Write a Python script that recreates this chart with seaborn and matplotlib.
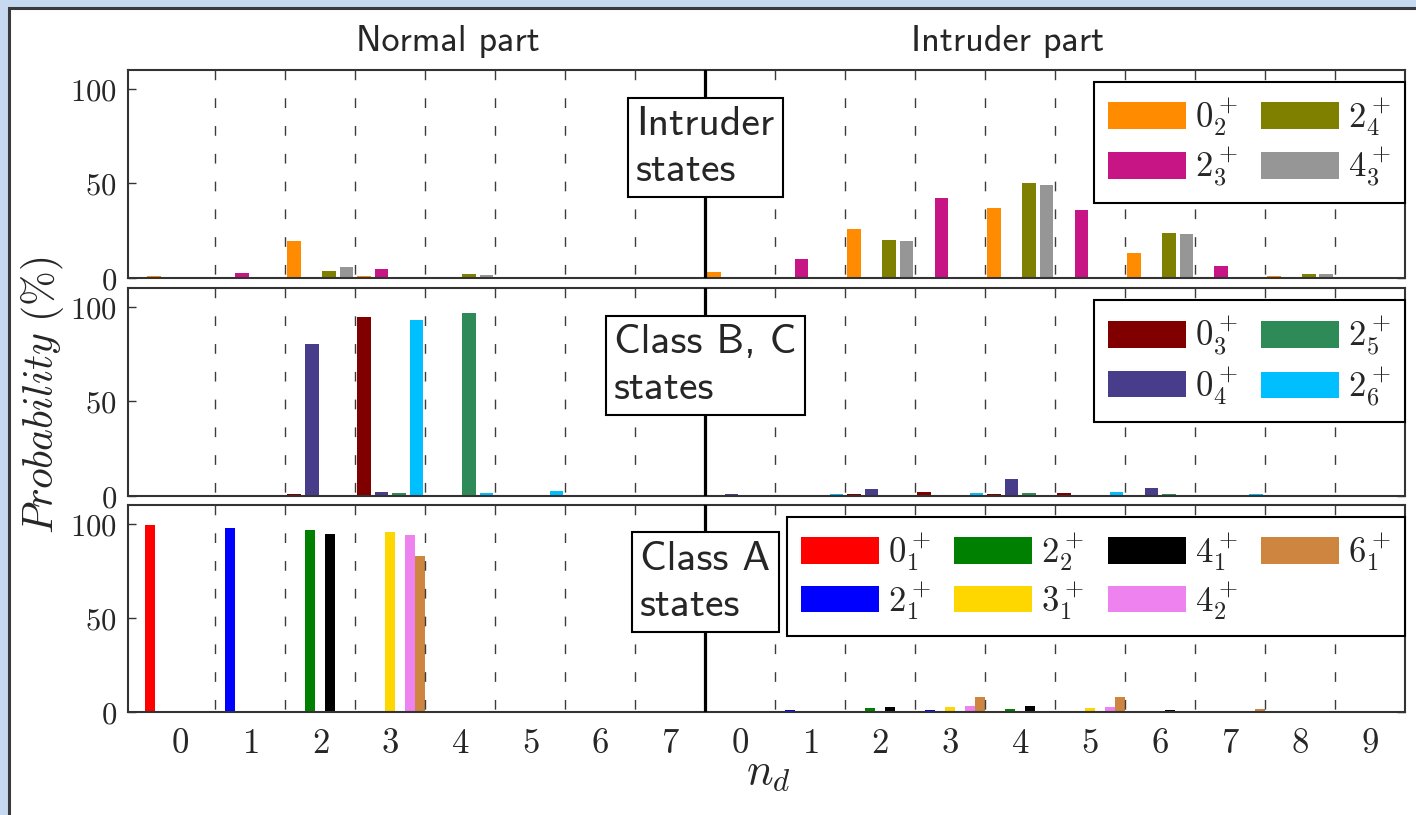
import numpy as np
import pandas as pd
import matplotlib
matplotlib.use("Agg")
import matplotlib.pyplot as plt
import seaborn as sns
from matplotlib.patches import Patch, Rectangle

# ---------------- data ----------------
tick_labels = [str(i) for i in range(8)] + [str(i) for i in range(10)]
positions = list(range(18))

# Intruder states
intr_names = [r"$0_2^+$", r"$2_3^+$", r"$2_4^+$", r"$4_3^+$"]
intr_colors = ["#FF8C00", "#C71585", "#808000", "#969696"]
s02 = [1.0, 0.2, 19.5, 1.2, 0.7, 0.1, 0.1, 0.1, 3.4, 0.2, 25.9, 0.2, 37.0, 0.2, 13.0, 0.2, 0.9, 0.1]
s23 = [0.2, 2.7, 0.3, 4.8, 0.3, 0.4, 0.1, 0.1, 0.2, 9.8, 0.3, 42.3, 0.3, 35.7, 0.3, 6.6, 0.2, 0.4]
s24 = [0.2, 0.2, 3.7, 0.2, 2.3, 0.1, 0.1, 0.1, 0.2, 0.2, 20.0, 0.2, 50.0, 0.2, 23.6, 0.2, 2.0, 0.1]
s43 = [0.2, 0.2, 6.0, 0.2, 1.8, 0.1, 0.1, 0.1, 0.2, 0.2, 19.5, 0.2, 49.1, 0.2, 23.2, 0.2, 2.0, 0.1]

# Class B, C states
bc_names = [r"$0_3^+$", r"$0_4^+$", r"$2_5^+$", r"$2_6^+$"]
bc_colors = ["#800000", "#483D8B", "#2E8B57", "#00BFFF"]
s03 = [0.1, 0.1, 1.1, 94.6, 0.2, 0.1, 0.1, 0.1, 0.2, 0.1, 1.0, 1.9, 1.0, 1.4, 0.5, 0.3, 0.1, 0.1]
s04 = [0.1, 0.1, 80.5, 2.3, 0.3, 0.1, 0.1, 0.1, 1.0, 0.1, 3.9, 0.2, 8.8, 0.2, 4.4, 0.2, 0.5, 0.1]
s25 = [0.1, 0.1, 0.1, 1.6, 96.6, 0.1, 0.1, 0.1, 0.1, 0.1, 0.2, 0.2, 1.8, 0.2, 1.1, 0.1, 0.1, 0.1]
s26 = [0.1, 0.1, 0.1, 92.9, 1.8, 2.5, 0.1, 0.1, 0.1, 1.0, 0.2, 1.6, 0.2, 1.9, 0.2, 0.9, 0.1, 0.1]

# Class A states
a_names = [r"$0_1^+$", r"$2_1^+$", r"$2_2^+$", r"$3_1^+$", r"$4_1^+$", r"$4_2^+$", r"$6_1^+$"]
a_colors = ["#FF0000", "#0000FF", "#008000", "#FFD700", "#000000", "#EE82EE", "#CD853F"]
s01 = [99.5, 0.1, 0.1, 0.1, 0.1, 0.1, 0.1, 0.1, 0.5, 0.1, 0.5, 0.1, 0.1, 0.1, 0.1, 0.1, 0.1, 0.1]
s21 = [0.1, 98.0, 0.1, 0.1, 0.1, 0.1, 0.1, 0.1, 0.1, 1.1, 0.1, 1.1, 0.1, 0.5, 0.1, 0.1, 0.1, 0.1]
s22 = [0.1, 0.1, 96.8, 0.1, 0.1, 0.1, 0.1, 0.1, 0.1, 0.1, 2.0, 0.1, 1.8, 0.1, 0.7, 0.1, 0.1, 0.1]
s31 = [0.1, 0.1, 0.1, 95.7, 0.1, 0.1, 0.1, 0.1, 0.1, 0.1, 0.1, 2.7, 0.1, 2.1, 0.1, 0.3, 0.1, 0.1]
s41 = [0.1, 0.1, 94.5, 0.1, 0.1, 0.1, 0.1, 0.1, 0.1, 0.1, 2.7, 0.1, 3.0, 0.1, 1.1, 0.1, 0.1, 0.1]
s42 = [0.1, 0.1, 0.1, 94.3, 0.1, 0.1, 0.1, 0.1, 0.1, 0.1, 0.1, 3.4, 0.1, 2.9, 0.1, 0.5, 0.1, 0.1]
s61 = [0.1, 0.1, 0.1, 83.0, 0.1, 0.1, 0.1, 0.1, 0.1, 0.1, 0.1, 8.0, 0.1, 8.2, 0.1, 1.8, 0.2, 0.1]

# ---------------- style ----------------
sns.set_style("ticks")
plt.rcParams["font.family"] = ["DejaVu Sans"]
plt.rcParams["mathtext.fontset"] = "cm"

W, H = 1416, 815
fig = plt.figure(figsize=(W / 100, H / 100), dpi=100)
fig.patch.set_facecolor("#C6D9F1")
frame = Rectangle((9 / W, -0.1), 1.2, 1.1 - 8.5 / H, transform=fig.transFigure,
                  facecolor="white", edgecolor="#3A3A3A", linewidth=2.2, zorder=-5)
fig.add_artist(frame)

left = 128 / W
width = (1405 - 128) / W
panels_px = [(70, 278), (288, 496), (505, 712)]
axes = []
for top, bot in panels_px:
    axes.append(fig.add_axes([left, 1 - bot / H, width, (bot - top) / H]))

SPINE = "#333333"


def panel(ax, names, values, colors, gap, ncol, box_text, show_x):
    df = pd.DataFrame({
        "pos": np.tile(positions, len(names)),
        "state": np.repeat(names, len(positions)),
        "prob": np.concatenate([np.asarray(v, float) for v in values]),
    })
    sns.barplot(data=df, x="pos", y="prob", hue="state", hue_order=names,
                palette=colors, width=1.0, gap=gap, dodge=True, ax=ax,
                legend=False, errorbar=None, saturation=1, linewidth=0)
    ax.set_xlim(-0.75, 17.5)
    ax.set_ylim(0, 110)
    xt = ax.get_xaxis_transform()
    for k in range(17):
        b = k + 0.5
        if k == 7:
            ax.plot([b, b], [1, 0], transform=xt, color="black", lw=2.3, zorder=4)
        else:
            ax.plot([b, b], [1, 0], transform=xt, color="#3C3C3C", lw=1.0,
                    dashes=(7, 13), zorder=4)
    ax.set_yticks([0, 50, 100])
    ax.set_yticklabels([r"$0$", r"$50$", r"$100$"], fontsize=22)
    ax.tick_params(axis="y", direction="in", left=True, right=True, length=6,
                   width=1.0, pad=8, color=SPINE)
    ax.set_xticks(positions)
    if show_x:
        ax.set_xticklabels([f"${t}$" for t in tick_labels], fontsize=25)
    else:
        ax.set_xticklabels([])
    ax.tick_params(axis="x", length=0, pad=10)
    ax.set_xlabel("")
    ax.set_ylabel("")
    for sp in ax.spines.values():
        sp.set_visible(True)
        sp.set_color(SPINE)
        sp.set_linewidth(1.5)

    handles = [Patch(facecolor=c, edgecolor="none") for c in colors]
    leg = ax.legend(handles, names, ncol=ncol, loc="upper right",
                    bbox_to_anchor=(1.0, 0.94), borderaxespad=0, fontsize=25,
                    frameon=True, fancybox=False, edgecolor="black",
                    handlelength=2.25, handleheight=0.8, handletextpad=0.26,
                    columnspacing=0.68, labelspacing=0.2, borderpad=0.4)
    leg.get_frame().set_linewidth(1.5)
    leg.get_frame().set_alpha(1)
    leg.set_zorder(10)

    ax.text(7.5, 69, box_text, ha="center", va="center", multialignment="left",
            family="cmss10", fontsize=30, linespacing=1.3, zorder=11,
            bbox=dict(boxstyle="square,pad=0.2", fc="white", ec="black", lw=1.5))


panel(axes[0], intr_names, [s02, s23, s24, s43], intr_colors, 0.22, 2,
      "Intruder\nstates", False)
panel(axes[1], bc_names, [s03, s04, s25, s26], bc_colors, 0.22, 2,
      "Class B, C\nstates", False)
panel(axes[2], a_names, [s01, s21, s22, s31, s41, s42, s61], a_colors, 0.0, 4,
      "Class A\nstates", True)

fig.text(448 / W, 1 - 42 / H, "Normal part", family="cmss10", fontsize=26,
         ha="center", va="center")
fig.text(1008 / W, 1 - 42 / H, "Intruder part", family="cmss10", fontsize=26,
         ha="center", va="center")
fig.text(42 / W, 1 - 395 / H, r"$Probability\ (\%)$", rotation=90, fontsize=30,
         ha="center", va="center")
fig.text(768 / W, 1 - 772 / H, r"$n_d$", fontsize=32, ha="center", va="center")

fig.savefig("out.png", dpi=100, facecolor=fig.get_facecolor())
